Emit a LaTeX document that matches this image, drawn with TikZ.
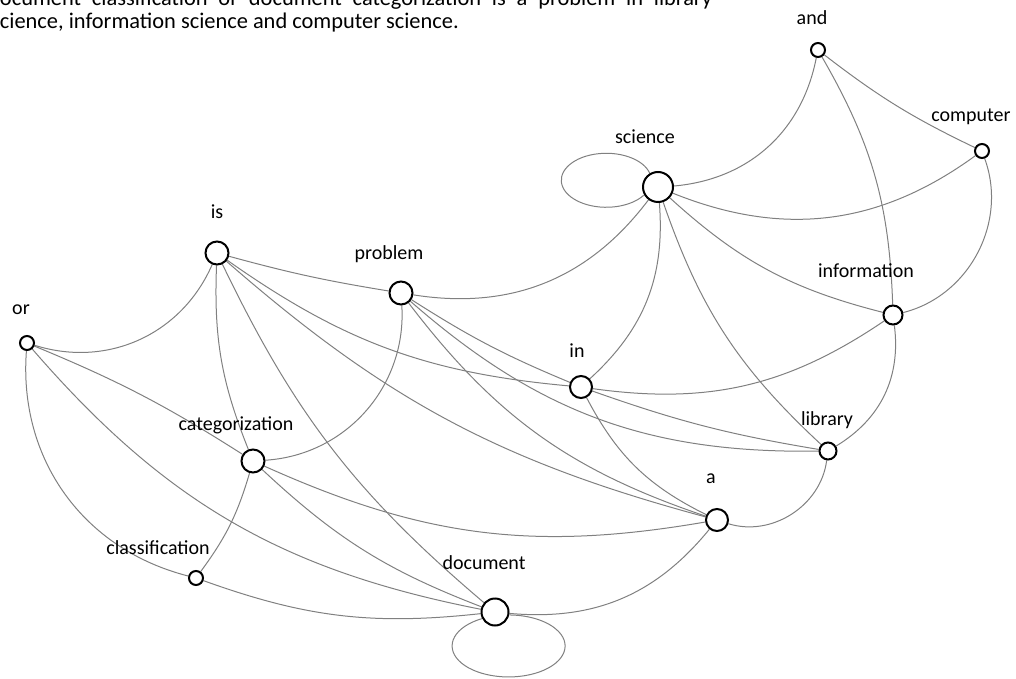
\documentclass[tikz,border=0pt]{standalone}
\usepackage{fontspec}
\setmainfont{Carlito}
\usetikzlibrary{backgrounds}
\begin{document}
\begin{tikzpicture}[x=1pt,y=1pt,
  vtx/.style={circle,draw=black,line width=2pt,fill=white,inner sep=0pt},
  lbl/.style={anchor=base,inner sep=0pt,font=\fontsize{20}{24}\selectfont},
  ttl/.style={anchor=base west,inner sep=0pt,font=\fontsize{22.4}{26}\selectfont},
  edge/.style={draw={rgb,255:red,128;green,128;blue,128},line width=1pt}]
\useasboundingbox (0,0) rectangle (1016,678);
% title
\node[ttl] (t1) at (-14,672) {\makebox[726pt][s]{Document classification or document categorization is a problem in library}};
\node[ttl] (t2) at (-9,649) {science, information science and computer science.};
% vertices
\node[vtx,minimum size=14pt] (and) at (818,628) {};
\node[vtx,minimum size=14pt] (computer) at (982,527) {};
\node[vtx,minimum size=30pt] (science) at (658,491) {};
\node[vtx,minimum size=23pt] (is) at (217,425) {};
\node[vtx,minimum size=23pt] (problem) at (401,385) {};
\node[vtx,minimum size=19pt] (information) at (893,363) {};
\node[vtx,minimum size=14pt] (or) at (27,335) {};
\node[vtx,minimum size=22pt] (in) at (581,291) {};
\node[vtx,minimum size=23pt] (categorization) at (253,217) {};
\node[vtx,minimum size=17pt] (library) at (828,227) {};
\node[vtx,minimum size=22pt] (a) at (717,158) {};
\node[vtx,minimum size=14pt] (classification) at (196,100) {};
\node[vtx,minimum size=27pt] (document) at (495,66) {};
% labels
\node[lbl] (l-and) at (812,653) {and};
\node[lbl] (l-computer) at (971,556) {computer};
\node[lbl] (l-science) at (645,534) {science};
\node[lbl] (l-is) at (217,459) {is};
\node[lbl] (l-problem) at (389,418) {problem};
\node[lbl] (l-information) at (866,400) {information};
\node[lbl] (l-or) at (21,363) {or};
\node[lbl] (l-in) at (577,321) {in};
\node[lbl] (l-categorization) at (236,248) {categorization};
\node[lbl] (l-library) at (827,253) {library};
\node[lbl] (l-a) at (711,195) {a};
\node[lbl] (l-classification) at (158,124) {classification};
\node[lbl] (l-document) at (484,109) {document};
\begin{pgfonlayer}{background}
% edges
\draw[edge] (classification) to[bend right=13] (document);
\draw[edge] (or) to[bend right=40] (classification);
\draw[edge] (or) to[bend right=19] (document);
\draw[edge] (or) to[bend left=5] (categorization);
\draw[edge] (or) to[bend right=42] (is);
\draw[edge] (is) to[bend right=12] (categorization);
\draw[edge] (is) to[bend right=12] (document);
\draw[edge] (is) to[bend right=3] (problem);
\draw[edge] (is) to[bend right=15] (in);
\draw[edge] (is) to[bend right=13] (a);
\draw[edge] (categorization) to[bend left=10] (classification);
\draw[edge] (categorization) to[bend right=11] (document);
\draw[edge] (categorization) to[bend right=45] (problem);
\draw[edge] (categorization) to[bend right=17] (a);
\draw[edge] (problem) to[bend right=17] (a);
\draw[edge] (problem) to[bend right=5] (in);
\draw[edge] (problem) to[bend right=21] (library);
\draw[edge] (problem) to[bend right=31] (science);
\draw[edge] (in) to[bend right=5] (library);
\draw[edge] (in) to[bend right=18] (a);
\draw[edge] (in) to[bend right=26] (science);
\draw[edge] (in) to[bend right=21] (information);
\draw[edge] (a) to[bend right=50] (library);
\draw[edge] (document) to[bend right=28] (a);
\draw[edge] (science) to[bend right=14] (library);
\draw[edge] (information) to[bend left=33] (library);
\draw[edge] (science) to[bend right=14] (information);
\draw[edge] (science) to[bend right=37] (and);
\draw[edge] (and) to[bend right=6] (computer);
\draw[edge] (and) to[bend left=14] (information);
\draw[edge] (science) to[bend right=29] (computer);
\draw[edge] (computer) to[bend left=48] (information);
% self loops
\draw[edge] (science.121) arc[start angle=15, end angle=326, x radius=45, y radius=27];
\draw[edge] (document.207) arc[start angle=118, end angle=449, x radius=56.5, y radius=31];
\end{pgfonlayer}
\end{tikzpicture}
\end{document}
